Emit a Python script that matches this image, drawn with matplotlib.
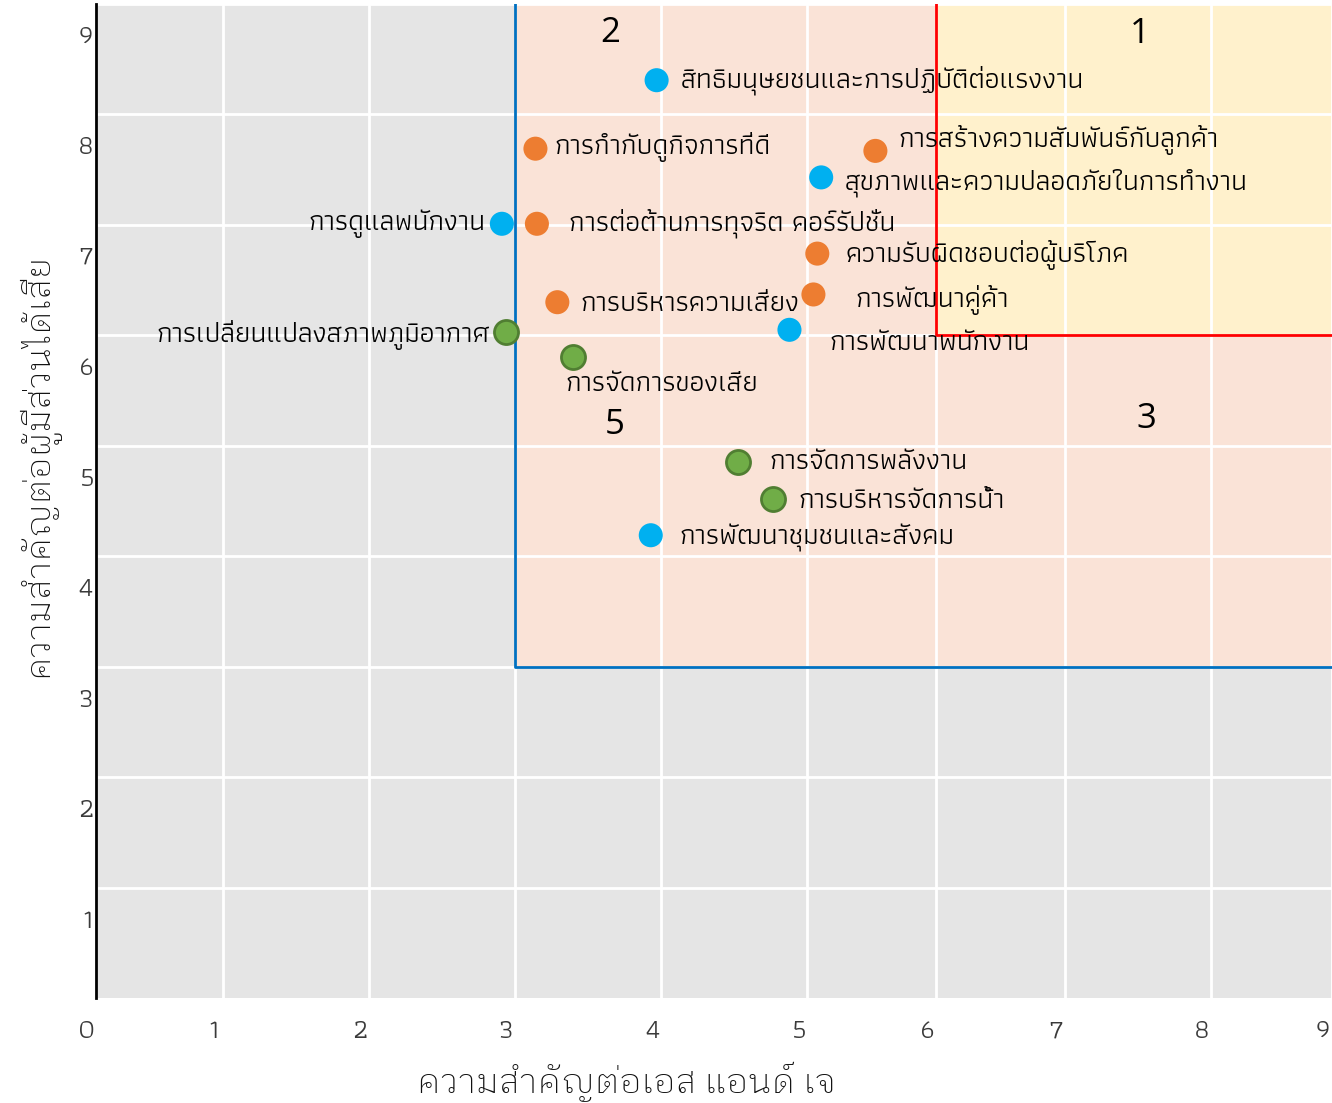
import numpy as np
import matplotlib
matplotlib.use('Agg')
import matplotlib.pyplot as plt
from matplotlib import transforms

labels = [
    'สิทธิมนุษยชนและการปฏิบัติต่อแรงงาน',
    'การดูแลพนักงาน',
    'สุขภาพและความปลอดภัยในการทำงาน',
    'การพัฒนาพนักงาน',
    'การพัฒนาชุมชนและสังคม',
    'การกำกับดูกิจการที่ดี',
    'การสร้างความสัมพันธ์กับลูกค้า',
    'การต่อต้านการทุจริต คอร์รัปชั่น',
    'ความรับผิดชอบต่อผู้บริโภค',
    'การบริหารความเสี่ยง',
    'การพัฒนาคู่ค้า',
    'การเปลี่ยนแปลงสภาพภูมิอากาศ',
    'การจัดการของเสีย',
    'การจัดการพลังงาน',
    'การบริหารจัดการน้ำ',
]
x_sj = [3.97, 2.91, 5.11, 4.88, 3.93, 3.14, 5.53, 3.15, 5.08, 3.29, 5.05, 2.94, 3.40, 4.53, 4.77]
y_stake = [8.31, 7.01, 7.43, 6.05, 4.19, 7.69, 7.67, 7.01, 6.74, 6.30, 6.37, 6.03, 5.80, 4.85, 4.52]
group = ['social', 'social', 'social', 'social', 'social',
         'econ', 'econ', 'econ', 'econ', 'econ', 'econ',
         'env', 'env', 'env', 'env']

zone_names = ['1', '2', '3', '5']
zone_x = [7.51, 3.65, 7.56, 3.68]
zone_y = [8.73, 8.74, 5.24, 5.19]

xlabel = 'ความสำคัญต่อเอส แอนด์ เจ'
ylabel = 'ความสำคัญต่อผู้มีส่วนได้เสีย'

# ---- styling ----
colors = {'social': '#00B0F0', 'econ': '#ED7D31', 'env': '#70AD47'}
edges = {'social': 'none', 'econ': 'none', 'env': '#507E32'}
# label offsets in pixels (dx, dy) and alignment
offsets = [(24, 0, 'left'), (-17, 0, 'right'), (24, -5, 'left'), (40, -13, 'left'),
           (29, -3, 'left'), (19, 2, 'left'), (23, 11, 'left'), (32, 1, 'left'),
           (28, -1, 'left'), (23, -1, 'left'), (42, -6, 'left'), (-16, -3, 'right'),
           (-8, -26, 'left'), (31, 1, 'left'), (25, -2, 'left')]

thai = ['Athiti', 'DejaVu Sans']
looped = ['IBM Plex Sans Thai Looped', 'Noto Sans Thai Looped', 'DejaVu Sans']

# the x grid in the picture is not evenly spaced; map it piecewise
grid_at = np.arange(10)
grid_pos = np.array([0, 0.925, 1.988, 3.051, 4.114, 5.177, 6.117, 7.056, 8.119, 9.0])


def fwd(v):
    return np.interp(v, grid_at, grid_pos)


def inv(v):
    return np.interp(v, grid_pos, grid_at)


fig = plt.figure(figsize=(13.32, 11.03), dpi=100)
ax = fig.add_axes([96 / 1332, 105 / 1103, 1 - 96 / 1332, 994 / 1103])
ax.set_xscale('function', functions=(fwd, inv))
ax.set_xlim(0, 9)
ax.set_ylim(0, 9)
ax.set_facecolor('#E5E5E5')
ax.set_axisbelow(True)
ax.grid(True, color='white', linewidth=2)

# quadrant zones
ax.fill_between([3, 9], 3, 9, color='#FAE3D7', zorder=0.2, linewidth=0)
ax.fill_between([6, 9], 6, 9, color='#FFF1CC', zorder=0.3, linewidth=0)
ax.plot([3, 3, 9], [9, 3.0, 3.0], color='#0070C0', linewidth=2, zorder=1)
ax.plot([6, 6, 9], [9, 6.0, 6.0], color='#FF0000', linewidth=2, zorder=1)

for name, zx, zy in zip(zone_names, zone_x, zone_y):
    ax.text(zx, zy, name, fontsize=25, fontfamily='Open Sans', fontweight='medium',
            ha='center', va='center', color='black', zorder=3)

for g in ['social', 'econ', 'env']:
    idx = [i for i, gg in enumerate(group) if gg == g]
    ax.scatter([x_sj[i] for i in idx], [y_stake[i] for i in idx], s=300,
               color=colors[g], edgecolors=edges[g], linewidths=2, zorder=4)

for i, lab in enumerate(labels):
    dx, dy, ha = offsets[i]
    ax.annotate(lab, (x_sj[i], y_stake[i]), xytext=(dx, dy), textcoords='offset pixels',
                ha=ha, va='center', fontsize=20.5, family=thai, color='black', zorder=5)

for s in ['top', 'right', 'bottom']:
    ax.spines[s].set_visible(False)
ax.spines['left'].set_color('black')
ax.spines['left'].set_linewidth(2)

ax.set_xticks(range(10))
ax.set_xticklabels([str(i) for i in range(10)])
ax.set_yticks(range(1, 10))
ax.set_yticklabels([str(i) for i in range(1, 10)])
ax.tick_params(length=0, labelsize=20, colors='#3A3A3A', pad=16)
ax.tick_params(axis='y', pad=2)
for t in ax.get_xticklabels():
    t.set_fontfamily(thai)
    t.set_transform(t.get_transform() + transforms.ScaledTranslation(-0.09, 0, fig.dpi_scale_trans))
for t in ax.get_yticklabels():
    t.set_fontfamily(thai)
    t.set_transform(t.get_transform() + transforms.ScaledTranslation(0, -0.31, fig.dpi_scale_trans))

fig.text(627 / 1332, 1 - 1082 / 1103, xlabel, fontsize=25.5, family=looped, weight='light',
         ha='center', va='center', color='#111111')
fig.text(38 / 1332, 1 - 465 / 1103, ylabel, fontsize=25.5, family=looped, weight='light',
         ha='center', va='center', rotation=90, color='#111111')

fig.savefig('out.png', dpi=100)
